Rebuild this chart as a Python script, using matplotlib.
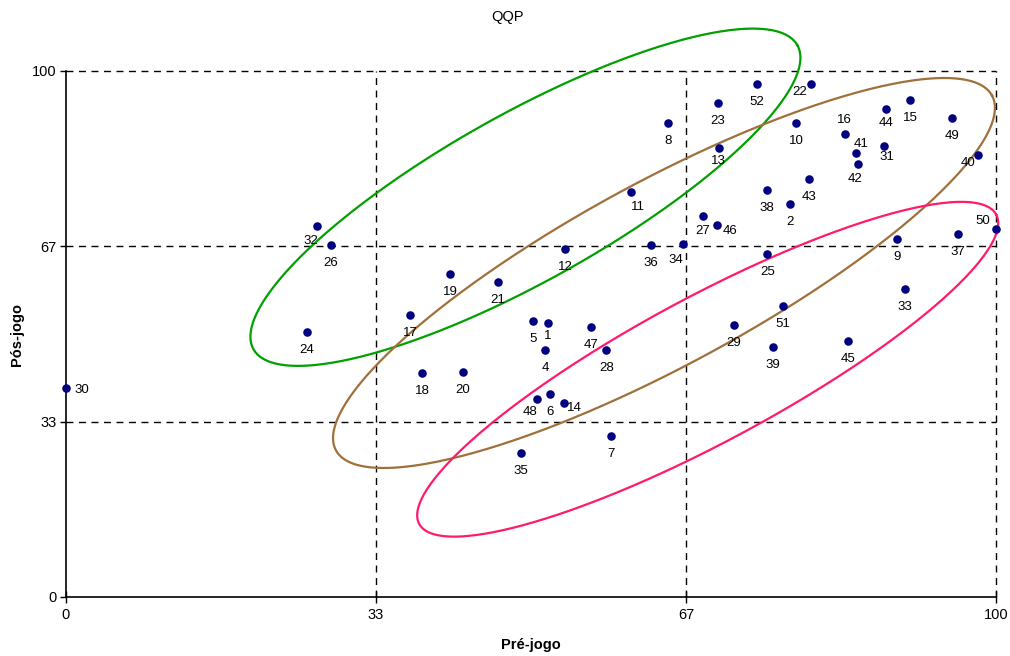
import numpy as np
import matplotlib
matplotlib.use("Agg")
import matplotlib.pyplot as plt

plt.rcParams['font.family'] = ['Liberation Sans', 'DejaVu Sans']

# Participant ids with pre-game and post-game scores
ids = [1, 2, 4, 5, 6, 7, 8, 9, 10, 11, 12, 13, 14, 15, 16, 17, 18, 19, 20,
       21, 22, 23, 24, 25, 26, 27, 28, 29, 30, 31, 32, 33, 34, 35, 36, 37,
       38, 39, 40, 41, 42, 43, 44, 45, 46, 47, 48, 49, 50, 51, 52]
pre = [51.8, 77.8, 51.5, 50.2, 52.0, 58.6, 64.7, 89.4, 78.5, 60.8, 53.7,
       70.2, 53.5, 90.8, 83.8, 37.0, 38.3, 41.3, 42.7, 46.4, 80.1, 70.1,
       25.9, 75.4, 28.5, 68.5, 58.1, 71.8, 0.0, 88.0, 27.0, 90.2, 66.3,
       48.9, 62.9, 95.9, 75.4, 76.0, 98.1, 84.9, 85.2, 79.9, 88.2, 84.1,
       70.0, 56.5, 50.6, 95.3, 100.0, 77.1, 74.3]
post = [52.1, 74.8, 46.9, 52.5, 38.5, 30.7, 90.2, 68.0, 90.2, 77.0, 66.2,
        85.4, 36.8, 94.5, 88.1, 53.6, 42.5, 61.5, 42.8, 59.9, 97.5, 93.9,
        50.4, 65.3, 66.9, 72.5, 47.0, 51.7, 39.7, 85.8, 70.5, 58.6, 67.2,
        27.4, 66.9, 69.0, 77.3, 47.5, 84.0, 84.5, 82.4, 79.5, 92.8, 48.7,
        70.7, 51.3, 37.6, 91.1, 69.9, 55.3, 97.5]

tick_values = [0, 100 / 3, 200 / 3, 100]
tick_labels = ["0", "33", "67", "100"]

# Group outlines: centre, semi-axes (x units) and tilt on screen (deg)
groups = [
    dict(center=(49.4, 76.0), a=33.5, b=9.0, angle=29.2, color="#00A000"),
    dict(center=(64.3, 61.6), a=40.1, b=9.9, angle=28.4, color="#A0703A"),
    dict(center=(69.0, 43.3), a=35.2, b=7.8, angle=28.2, color="#FF1A6E"),
]

# Label placement (pixel offsets) where the default "below" would collide
default_off = (0, -18)
label_off = {
    32: (-6, -15), 22: (-11, -8), 13: (0, -13), 11: (7, -15), 46: (13, -6),
    34: (-7, -16), 16: (-1, 14), 41: (6, 9), 42: (-3, -15), 44: (0, -14),
    31: (2, -11), 40: (-10, -8), 50: (-13, 8), 1: (0, -13), 48: (-7, -13),
    14: (11, -5), 30: (16, -2), 27: (0, -15),
}

W, H = 1010, 656
AX_W, AX_H = 930, 526
fig = plt.figure(figsize=(W / 100, H / 100), dpi=100)
ax = fig.add_axes([66 / W, 59 / H, AX_W / W, AX_H / H])
ax.set_xlim(0, 100)
ax.set_ylim(0, 100)

# Dashed grid, including the top and right borders
dash = (0, (5, 4))
for v in tick_values[1:]:
    ax.axvline(v, color="black", lw=1, ls=dash, zorder=1, clip_on=False)
    ax.axhline(v, color="black", lw=1, ls=dash, zorder=1, clip_on=False)
for side in ("top", "right"):
    ax.spines[side].set_visible(False)
for side in ("left", "bottom"):
    ax.spines[side].set_linewidth(1.2)

ax.set_xticks(tick_values)
ax.set_xticklabels(tick_labels)
ax.set_yticks(tick_values)
ax.set_yticklabels(tick_labels)
ax.tick_params(axis="x", direction="inout", length=8, width=1, labelsize=10.5, pad=4)
ax.tick_params(axis="y", direction="out", length=4, width=1, labelsize=10.5, pad=3)

ax.set_xlabel("Pré-jogo", fontsize=10.5, fontweight="bold", va="center")
ax.xaxis.set_label_coords(0.5, -(645 - 597) / AX_H)
ax.set_ylabel("Pós-jogo", fontsize=10.5, fontweight="bold", va="center")
ax.yaxis.set_label_coords(-(66 - 17) / AX_W, 0.5)
fig.text(508 / W, 1 - 17 / H, "QQP", ha="center", va="center", fontsize=10.5)

# Ellipses drawn with equal screen proportions
px_x = AX_W / 100
px_y = AX_H / 100
t = np.linspace(0, 2 * np.pi, 400)
for g in groups:
    th = np.radians(g["angle"])
    dx = g["a"] * np.cos(t) * np.cos(th) - g["b"] * np.sin(t) * np.sin(th)
    dy = g["a"] * np.cos(t) * np.sin(th) + g["b"] * np.sin(t) * np.cos(th)
    xs = g["center"][0] + dx
    ys = g["center"][1] + dy * px_x / px_y
    ax.plot(xs, ys, color=g["color"], lw=1.6, zorder=2, clip_on=False)

ax.scatter(pre, post, s=38, color="#000080", zorder=4, clip_on=False, linewidths=0)

for i, x, y in zip(ids, pre, post):
    ox, oy = label_off.get(i, default_off)
    ax.annotate(str(i), (x, y), xytext=(ox * 0.72, oy * 0.72),
                textcoords="offset points", ha="center", va="center",
                fontsize=9.5, zorder=5, annotation_clip=False)

fig.savefig("out.png", dpi=100)
